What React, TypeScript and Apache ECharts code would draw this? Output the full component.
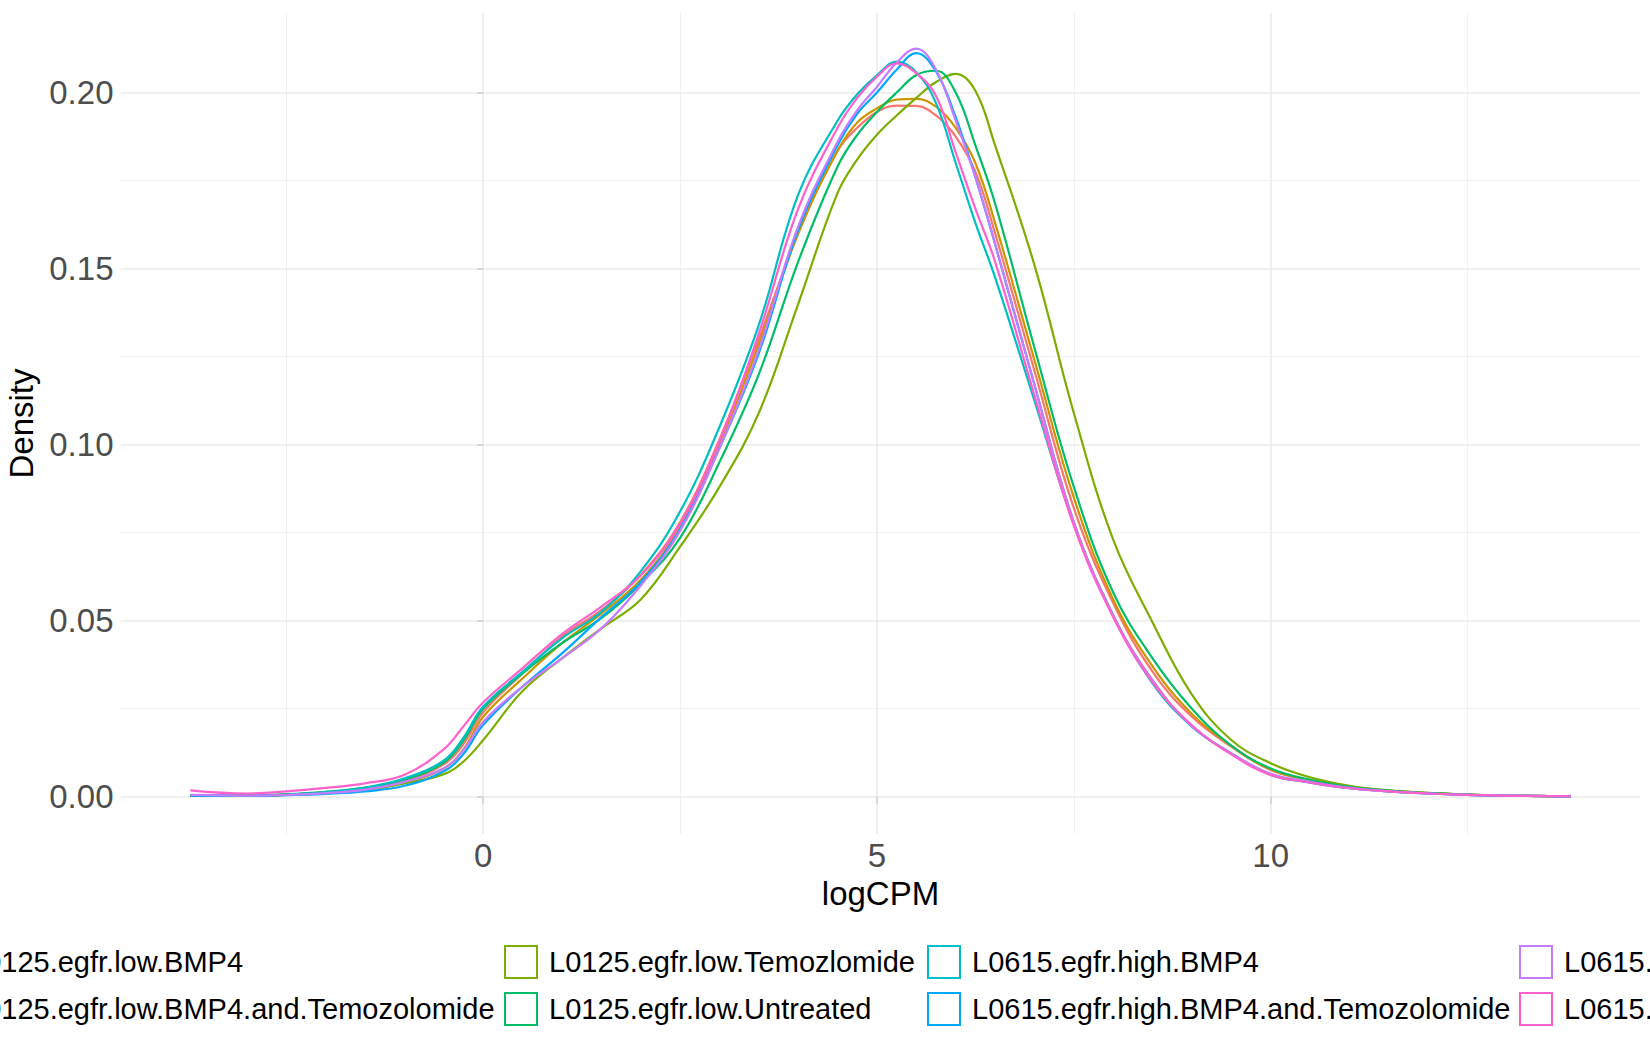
import React, { useEffect, useRef } from 'react';
import * as echarts from 'echarts';

// logCPM positions at which the density curves were read
const logCPM = [
  -3.72, -3, -2.5, -2, -1.5, -1, -0.5, -0.25, 0, 0.5, 1, 1.5, 2, 2.5, 3, 3.5, 4, 4.5, 4.75, 5,
  5.25, 5.5, 5.75, 6, 6.25, 6.5, 7, 7.5, 8, 8.5, 9, 9.5, 10, 10.5, 11, 11.5, 12, 12.5, 13, 13.81
];

const sampleNames = [
  'L0125.egfr.low.BMP4',
  'L0125.egfr.low.BMP4.and.Temozolomide',
  'L0125.egfr.low.Temozlomide',
  'L0125.egfr.low.Untreated',
  'L0615.egfr.high.BMP4',
  'L0615.egfr.high.BMP4.and.Temozolomide',
  'L0615.egfr.high.Temozlomide',
  'L0615.egfr.high.Untreated'
];

const sampleColors = ['#F8766D', '#CD9600', '#7CAE00', '#00BE67', '#00BFC4', '#00A9FF', '#C77CFF', '#FF61CC'];

const lowBMP4 = [
  0.0003, 0.0003, 0.0006, 0.0012, 0.0022, 0.0045, 0.0092, 0.0150, 0.0240, 0.0350, 0.0455, 0.0530, 0.0630, 0.0780,
  0.1015, 0.1300, 0.1600, 0.1835, 0.1900, 0.1945, 0.1963, 0.1962, 0.1935, 0.1875, 0.1775, 0.1600, 0.1210, 0.0820,
  0.0550, 0.0355, 0.0227, 0.0142, 0.0076, 0.0046, 0.0027, 0.0016, 0.0010, 0.0006, 0.0003, 0.0001
];
const lowBMP4Tmz = [
  0.0003, 0.0003, 0.0005, 0.0010, 0.0019, 0.0040, 0.0080, 0.0135, 0.0227, 0.0336, 0.0436, 0.0520, 0.0616, 0.0765,
  0.1000, 0.1285, 0.1600, 0.1835, 0.1915, 0.1955, 0.1980, 0.1982, 0.1960, 0.1900, 0.1800, 0.1630, 0.1240, 0.0850,
  0.0560, 0.0370, 0.0235, 0.0145, 0.0077, 0.0047, 0.0028, 0.0017, 0.0010, 0.0006, 0.0003, 0.0001
];
const lowTmz = [
  0.0003, 0.0003, 0.0005, 0.0010, 0.0020, 0.0038, 0.0064, 0.0100, 0.0161, 0.0300, 0.0393, 0.0478, 0.0560, 0.0710,
  0.0880, 0.1090, 0.1400, 0.1715, 0.1810, 0.1880, 0.1935, 0.1985, 0.2030, 0.2053, 0.2005, 0.1850, 0.1510, 0.1090,
  0.0730, 0.0495, 0.0290, 0.0161, 0.0095, 0.0055, 0.0031, 0.0018, 0.0011, 0.0006, 0.0003, 0.0001
];
const lowUntreated = [
  0.0004, 0.0004, 0.0007, 0.0014, 0.0026, 0.0048, 0.0097, 0.0160, 0.0250, 0.0350, 0.0436, 0.0507, 0.0605, 0.0735,
  0.0950, 0.1200, 0.1520, 0.1790, 0.1880, 0.1945, 0.2000, 0.2050, 0.2062, 0.2000, 0.1850, 0.1685, 0.1275, 0.0880,
  0.0580, 0.0393, 0.0250, 0.0145, 0.0080, 0.0048, 0.0028, 0.0017, 0.0010, 0.0006, 0.0003, 0.0001
];
const highBMP4 = [
  0.0004, 0.0003, 0.0006, 0.0013, 0.0026, 0.0052, 0.0103, 0.0168, 0.0256, 0.0355, 0.0450, 0.0525, 0.0640, 0.0810,
  0.1050, 0.1340, 0.1710, 0.1920, 0.1995, 0.2049, 0.2088, 0.2058, 0.1970, 0.1800, 0.1630, 0.1475, 0.1125, 0.0775,
  0.0515, 0.0322, 0.0199, 0.0123, 0.0062, 0.0040, 0.0024, 0.0015, 0.0009, 0.0005, 0.0003, 0.0001
];
const highBMP4Tmz = [
  0.0003, 0.0002, 0.0004, 0.0008, 0.0015, 0.0031, 0.0072, 0.0122, 0.0204, 0.0313, 0.0407, 0.0510, 0.0610, 0.0760,
  0.0990, 0.1260, 0.1610, 0.1850, 0.1940, 0.2000, 0.2065, 0.2112, 0.2060, 0.1930, 0.1760, 0.1570, 0.1170, 0.0780,
  0.0515, 0.0330, 0.0200, 0.0123, 0.0064, 0.0041, 0.0025, 0.0015, 0.0009, 0.0005, 0.0003, 0.0001
];
const highTmz = [
  0.0005, 0.0003, 0.0005, 0.0010, 0.0020, 0.0042, 0.0081, 0.0133, 0.0213, 0.0313, 0.0393, 0.0478, 0.0600, 0.0755,
  0.0990, 0.1270, 0.1620, 0.1860, 0.1950, 0.2016, 0.2085, 0.2125, 0.2065, 0.1920, 0.1760, 0.1570, 0.1170, 0.0780,
  0.0515, 0.0330, 0.0200, 0.0123, 0.0065, 0.0042, 0.0025, 0.0015, 0.0009, 0.0005, 0.0003, 0.0001
];
const highUntreated = [
  0.0018, 0.0009, 0.0015, 0.0025, 0.0038, 0.0062, 0.0135, 0.0200, 0.0268, 0.0365, 0.0462, 0.0540, 0.0628, 0.0775,
  0.1010, 0.1316, 0.1670, 0.1900, 0.1985, 0.2045, 0.2083, 0.2055, 0.1990, 0.1830, 0.1670, 0.1520, 0.1140, 0.0770,
  0.0510, 0.0325, 0.0203, 0.0120, 0.0062, 0.0040, 0.0024, 0.0015, 0.0009, 0.0005, 0.0003, 0.0001
];

const densities = [lowBMP4, lowBMP4Tmz, lowTmz, lowUntreated, highBMP4, highBMP4Tmz, highTmz, highUntreated];

const xMajorTicks = [0, 5, 10];
const xMinorTicks = [-2.5, 2.5, 7.5, 12.5];
const yMajorTicks = [0, 0.05, 0.1, 0.15, 0.2];
const yMinorTicks = [0.025, 0.075, 0.125, 0.175];

const FONT = '"Liberation Sans", Arial, Helvetica, sans-serif';

const DensityChart: React.FC = () => {
  const chartRef = useRef<HTMLDivElement>(null);

  useEffect(() => {
    document.body.style.margin = '0';
    if (!chartRef.current) return;

    // legend is laid out in four columns of two rows, wider than the page
    const legendColumns = [
      { left: -76, items: [0, 1] },
      { left: 504, items: [2, 3] },
      { left: 927, items: [4, 5] },
      { left: 1519, items: [6, 7] }
    ];

    const option = {
      animation: false,
      backgroundColor: '#ffffff',
      textStyle: { fontFamily: FONT },
      grid: { left: 121, right: 10, top: 13, bottom: 216, containLabel: false, outerBoundsMode: 'none' },
      legend: legendColumns.map((col) => ({
        orient: 'vertical',
        left: col.left,
        top: 945,
        padding: 0,
        itemWidth: 32,
        itemHeight: 32,
        itemGap: 13,
        icon: 'rect',
        selectedMode: false,
        textStyle: { fontSize: 29, color: '#000000', fontFamily: FONT, padding: [0, 0, 0, 7] },
        data: col.items.map((i) => ({
          name: sampleNames[i],
          itemStyle: { color: '#ffffff', borderColor: sampleColors[i], borderWidth: 2 }
        }))
      })),
      xAxis: [
        {
          type: 'value',
          min: -4.6,
          max: 14.69,
          name: 'logCPM',
          nameLocation: 'middle',
          nameGap: 31,
          nameTextStyle: { fontSize: 33, color: '#000000', fontFamily: FONT },
          axisLine: { show: false },
          axisTick: { show: true, length: 7, customValues: xMajorTicks, lineStyle: { color: '#D0D0D0', width: 1.5 } },
          axisLabel: { customValues: xMajorTicks, fontSize: 33, color: '#4D4D4D', margin: 5, fontFamily: FONT },
          splitLine: { show: true, lineStyle: { color: '#EBEBEB', width: 1.6 } }
        },
        {
          type: 'value',
          min: -4.6,
          max: 14.69,
          position: 'bottom',
          axisLine: { show: false },
          axisTick: { show: false, customValues: xMinorTicks },
          axisLabel: { show: false, customValues: xMinorTicks },
          splitLine: { show: true, lineStyle: { color: '#F1F1F1', width: 1 } }
        }
      ],
      yAxis: [
        {
          type: 'value',
          min: -0.0106,
          max: 0.2226,
          name: 'Density',
          nameLocation: 'middle',
          nameGap: 77,
          nameRotate: 90,
          nameTextStyle: { fontSize: 33, color: '#000000', fontFamily: FONT },
          axisLine: { show: false },
          axisTick: { show: true, length: 6, customValues: yMajorTicks, lineStyle: { color: '#D0D0D0', width: 1.5 } },
          axisLabel: {
            customValues: yMajorTicks,
            fontSize: 33,
            color: '#4D4D4D',
            margin: 7.5,
            fontFamily: FONT,
            formatter: (v: number) => v.toFixed(2)
          },
          splitLine: { show: true, lineStyle: { color: '#EBEBEB', width: 1.6 } }
        },
        {
          type: 'value',
          min: -0.0106,
          max: 0.2226,
          position: 'left',
          axisLine: { show: false },
          axisTick: { show: false, customValues: yMinorTicks },
          axisLabel: { show: false, customValues: yMinorTicks },
          splitLine: { show: true, lineStyle: { color: '#F1F1F1', width: 1 } }
        }
      ],
      series: densities.map((values, i) => ({
        name: sampleNames[i],
        type: 'line',
        xAxisIndex: 0,
        yAxisIndex: 0,
        smooth: 0.4,
        showSymbol: false,
        symbol: 'none',
        color: sampleColors[i],
        lineStyle: { color: sampleColors[i], width: 2.2 },
        data: logCPM.map((x, j) => [x, values[j]])
      }))
    };

    const chart = echarts.init(chartRef.current, null, { renderer: 'svg' });
    chart.setOption(option);

    return () => {
      chart.dispose();
    };
  }, []);

  return <div ref={chartRef} style={{ width: '1650px', height: '1050px' }} />;
};

const App: React.FC = () => <DensityChart />;

export default App;
